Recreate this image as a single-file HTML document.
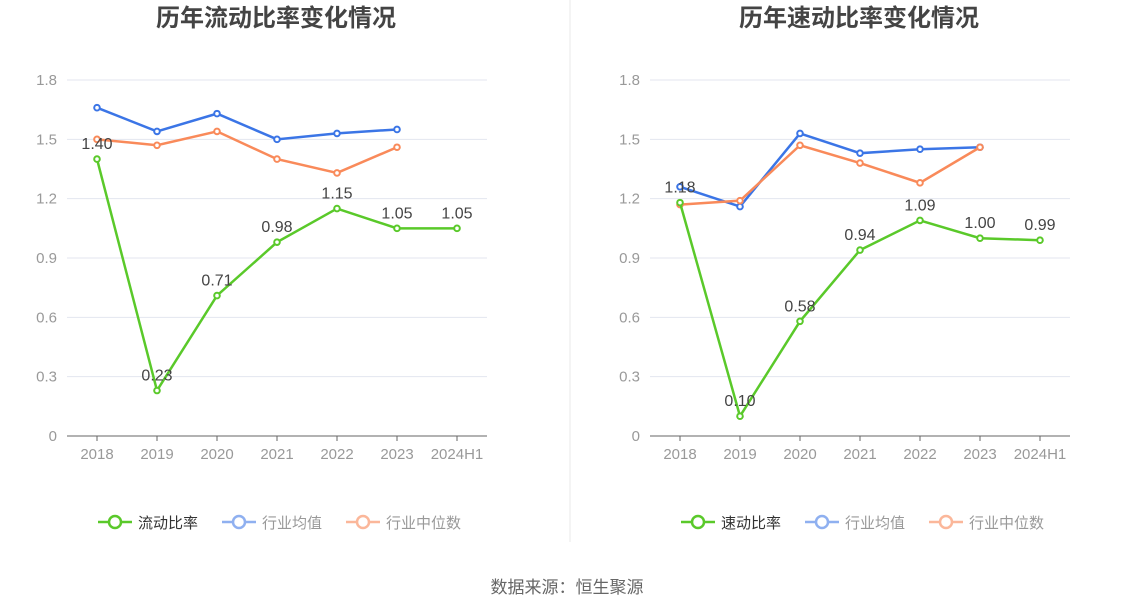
<!DOCTYPE html>
<html><head><meta charset="utf-8">
<style>
body{margin:0;background:#fff;font-family:"Liberation Sans","Noto Sans CJK SC",sans-serif;}
svg{display:block}
</style></head>
<body>
<svg id="root" width="1134" height="612" xmlns="http://www.w3.org/2000/svg">
<line x1="570" y1="0" x2="570" y2="542" stroke="#e8e8e8"/>
<text x="567" y="593" text-anchor="middle" font-size="17" fill="#666">数据来源：恒生聚源</text>
</svg>
<script>
const categories=["2018","2019","2020","2021","2022","2023","2024H1"];
const yTicks=[0,0.3,0.6,0.9,1.2,1.5,1.8];
const yTickLabels=["0","0.3","0.6","0.9","1.2","1.5","1.8"];
const leftTitle="历年流动比率变化情况";
const leftMain=[1.40,0.23,0.71,0.98,1.15,1.05,1.05];
const leftAvg=[1.66,1.54,1.63,1.50,1.53,1.55];
const leftMed=[1.50,1.47,1.54,1.40,1.33,1.46];
const rightTitle="历年速动比率变化情况";
const rightMain=[1.18,0.10,0.58,0.94,1.09,1.00,0.99];
const rightAvg=[1.26,1.16,1.53,1.43,1.45,1.46];
const rightMed=[1.17,1.19,1.47,1.38,1.28,1.46];
const NS="http://www.w3.org/2000/svg";
const svg=document.getElementById('root');
function mk(tag,attrs,parent){const e=document.createElementNS(NS,tag);for(const k in attrs)e.setAttribute(k,attrs[k]);(parent||svg).appendChild(e);return e;}
function chart(x0,title,main,avg,med,mainName,key){
  const g=mk('g',{});
  
  
  const left=x0+67,right=x0+487,top=80,bottom=436;
  const xs=i=>left+30+i*60;
  const ys=v=>bottom-(v/1.8)*(bottom-top);
  const t=mk('text',{x:x0+276,y:26,'text-anchor':'middle','font-size':24,'font-weight':'bold',fill:'#444'},g);
  t.textContent=title;
  
  
  yTicks.forEach((v,i)=>{
    if(i>0){const l=mk('line',{x1:left,x2:right,y1:ys(v),y2:ys(v),stroke:'#e3e6ef'},g);
    
    }
    const tt=mk('text',{x:left-10,y:ys(v)+5,'text-anchor':'end','font-size':15,fill:'#999'},g);
    tt.textContent=yTickLabels[i];
    
    
  });
  const ax=mk('line',{x1:left,x2:right,y1:bottom,y2:bottom,stroke:'#666'},g);
  
  
  categories.forEach((c,i)=>{
    mk('line',{x1:xs(i),x2:xs(i),y1:bottom,y2:bottom+5,stroke:'#666'},g);
    const tt=mk('text',{x:xs(i),y:bottom+23,'text-anchor':'middle','font-size':15,fill:'#999'},g);
    tt.textContent=c;
    
    
  });
  function series(vals,color,name,labels){
    const p=mk('polyline',{points:vals.map((v,i)=>xs(i)+','+ys(v)).join(' '),fill:'none',stroke:color,'stroke-width':2.5},g);
    
    
    vals.forEach((v,i)=>{
      const c=mk('circle',{cx:xs(i),cy:ys(v),r:2.8,fill:'#fff',stroke:color,'stroke-width':2},g);
      
      
      if(labels){const tt=mk('text',{x:xs(i),y:ys(v)-10,'text-anchor':'middle','font-size':16,fill:'#444'},g);
        tt.textContent=v.toFixed(2);
        
        }
    });
  }
  series(avg,'#3b75e6','industry-avg',false);
  series(med,'#f98a5a','industry-median',false);
  series(main,'#5ac92a',key+'-ratio',true);
  const leg=[[mainName,'#5ac92a','#333'],['行业均值','#8fb0f0','#999'],['行业中位数','#fbb79a','#999']];
  let lx=x0+98;
  leg.forEach((L,i)=>{
    const lg=mk('g',{},g);
    
    
    mk('line',{x1:lx,x2:lx+34,y1:522,y2:522,stroke:L[1],'stroke-width':2.5},lg);
    mk('circle',{cx:lx+17,cy:522,r:6,fill:'#fff',stroke:L[1],'stroke-width':2.5},lg);
    const tt=mk('text',{x:lx+40,y:528,'font-size':15,fill:L[2]},lg);
    tt.textContent=L[0];
    lx+=40+L[0].length*15+24;
  });
}
chart(0,leftTitle,leftMain,leftAvg,leftMed,'流动比率','current');
chart(583,rightTitle,rightMain,rightAvg,rightMed,'速动比率','quick');
</script>
</body></html>
